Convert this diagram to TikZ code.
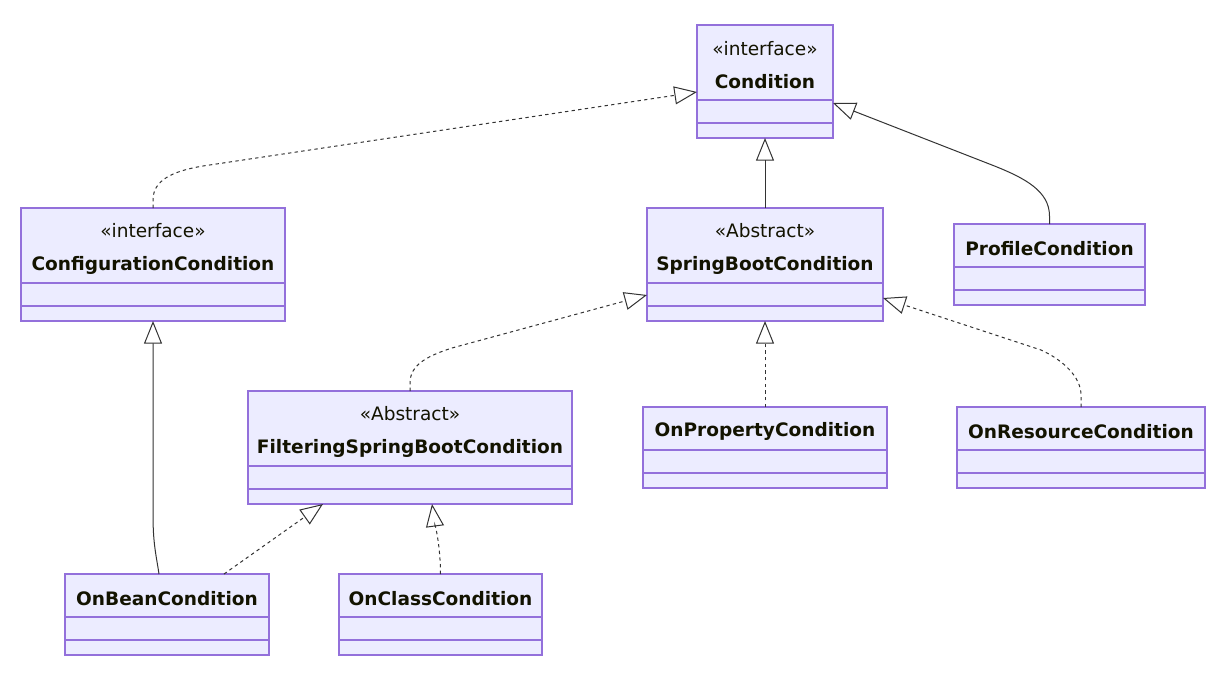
\documentclass[tikz,border=0pt]{standalone}
\usepackage{fontspec}
\setmainfont{DejaVu Sans}
\usetikzlibrary{arrows.meta,positioning,calc}
\definecolor{umlfill}{HTML}{ECECFF}
\definecolor{umlline}{HTML}{9370DB}
\definecolor{umlink}{HTML}{333333}
\definecolor{umltext}{HTML}{131300}

% class box: head with the name, then a body split in two empty compartments
\newcommand{\umlclass}[5]{%
  \node[chead,minimum width=#3,minimum height=#4] (#1) at (#2) {\rule{0pt}{15pt}#5};
  \node[cpart,minimum width=#3,minimum height=28.5pt,below=0pt of #1] (#1-b) {};
  \draw[cdiv] ([yshift=-17pt]#1-b.north west) -- ([yshift=-17pt]#1-b.north east);
}

\begin{document}
\begin{tikzpicture}[
    x=0.75pt,y=-0.75pt,
    chead/.style   = {rectangle,draw=umlline,fill=umlfill,line width=1.1pt,outer sep=0pt,
                      anchor=north west,align=center,inner sep=0pt,text=umltext,
                      font=\fontsize{13.9}{24.75}\selectfont},
    cpart/.style   = {rectangle,draw=umlline,fill=umlfill,line width=1.1pt,outer sep=0pt},
    cdiv/.style    = {draw=umlline,line width=1.3pt},
    inherit/.style = {-{Triangle[open,length=17pt,width=13.5pt]},draw=umlink,line width=0.75pt},
    realize/.style = {inherit,dash pattern=on 2.5pt off 2.5pt},
  ]

  \useasboundingbox[fill=white] (0,0) rectangle (1232,682);

  \umlclass{cond}{697,25}{102pt}{56.25pt}{«interface»\\\textbf{Condition}}
  \umlclass{cfg}{21,208}{198pt}{56.25pt}{«interface»\\\textbf{ConfigurationCondition}}
  \umlclass{sbc}{647,208}{177pt}{56.25pt}{«Abstract»\\\textbf{SpringBootCondition}}
  \umlclass{prof}{954,224}{143.25pt}{32.25pt}{\textbf{ProfileCondition}}
  \umlclass{filt}{248,391}{243pt}{56.25pt}{«Abstract»\\\textbf{FilteringSpringBootCondition}}
  \umlclass{prop}{643,407}{183pt}{32.25pt}{\textbf{OnPropertyCondition}}
  \umlclass{res}{957,407}{186pt}{32.25pt}{\textbf{OnResourceCondition}}
  \umlclass{bean}{65,574}{153pt}{32.25pt}{\textbf{OnBeanCondition}}
  \umlclass{cls}{339,574}{152.25pt}{32.25pt}{\textbf{OnClassCondition}}

  % where the arrows meet the boxes
  \coordinate (cond-l) at ($(cond.south west)+(0,-8)$);
  \coordinate (cond-r) at ($(cond.south east)+(0,3)$);
  \coordinate (sbc-l)  at ($(sbc.south west)+(0,12)$);
  \coordinate (sbc-r)  at ($(sbc.south east)+(0,15)$);
  \coordinate (filt-l) at ($(filt-b.south west)+(75,0)$);
  \coordinate (filt-m) at ($(filt-b.south)+(22,0)$);
  \coordinate (bean-l) at ($(bean.north)+(-8,0)$);
  \coordinate (bean-r) at ($(bean.north)+(57,0)$);

  \draw[realize] (cfg.north) -- ++(0,-8) .. controls +(0,-20) and +(-30,5) .. ++(50,-34) -- (cond-l);
  \draw[inherit] (sbc.north) -- (cond-b.south);
  \draw[inherit] (prof.north) -- ++(0,-8) .. controls +(0,-25) and +(30,12) .. ++(-55,-50) -- (cond-r);

  \draw[realize] (filt.north) -- ++(0,-8) .. controls +(0,-18) and +(-25,8) .. ++(42,-35) -- (sbc-l);
  \draw[realize] (prop.north) -- (sbc-b.south);
  \draw[realize] (res.north) -- ++(0,-12) .. controls +(0,-18) and +(22,10) .. ++(-40,-45) -- (sbc-r);

  \draw[inherit] (bean-l) .. controls +(-3,-20) and +(0,30) .. ++(-6,-60) -- (cfg-b.south);
  \draw[realize] (bean-r) -- (filt-l);
  \draw[realize] (cls.north) .. controls +(0,-30) and +(2,15) .. (filt-m);

\end{tikzpicture}
\end{document}
